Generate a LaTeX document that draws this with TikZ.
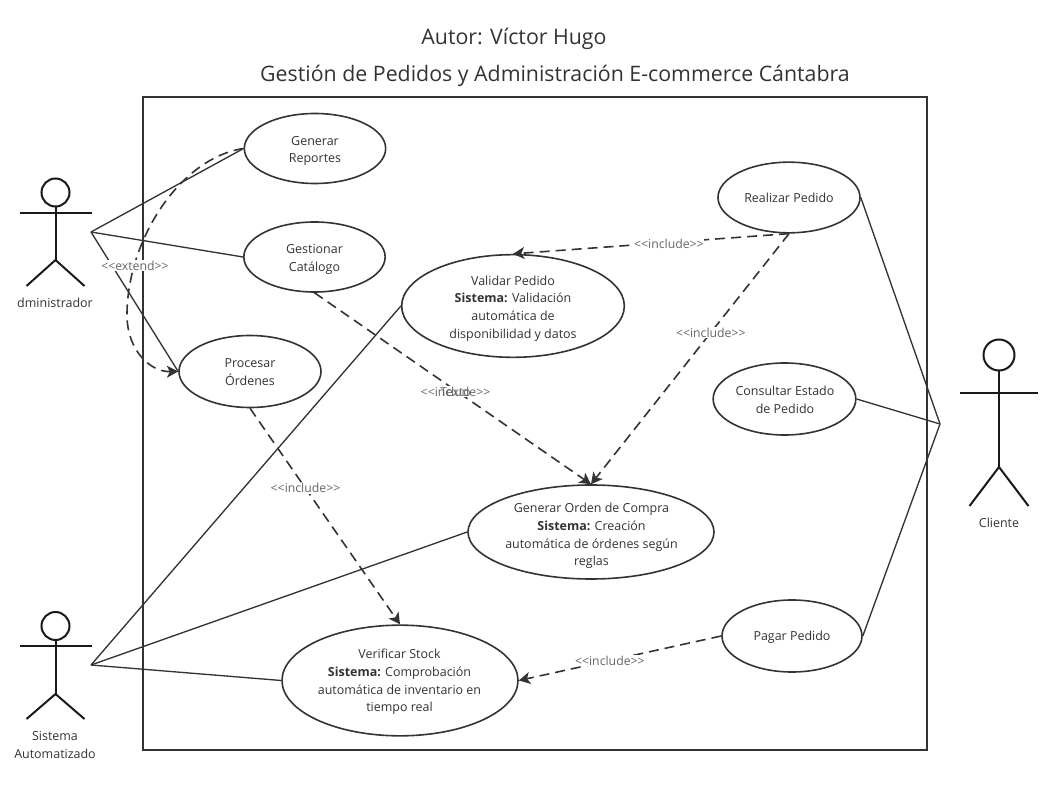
\documentclass[tikz,border=0pt]{standalone}
\usepackage{fontspec}
\setmainfont{Open Sans}
\usetikzlibrary{arrows.meta,shapes.geometric}
\definecolor{ink}{HTML}{333333}
\newcommand{\bodyfont}{\fontsize{9.35}{13.2}\selectfont}
\newcommand{\inctext}{{<}{<}include{>}{>}}
\tikzset{
  x=0.75pt,y=-0.75pt,
  usecase/.style={draw=ink,line width=1.2pt,ellipse,fill=white,inner sep=0pt},
  uctext/.style={text=ink,align=center,font=\bodyfont,inner sep=0pt},
  assoc/.style={draw=ink,line width=1pt},
  dep/.style={draw=ink,line width=1.2pt,dash pattern=on 7.5pt off 4.5pt,-{Stealth[length=8.5pt,width=9pt,inset=2.2pt]}},
  deplabel/.style={fill=white,text=ink!75,inner sep=0.5pt,font=\fontsize{9.2}{10}\selectfont},
  limb/.style={draw=black!90,line width=1.5pt},
  actorname/.style={text=ink,align=center,inner sep=0pt,font=\bodyfont},
  titletext/.style={text=ink,inner sep=0pt,font=\fontsize{16}{20}\selectfont},
}
\newcommand{\actor}[8]{%
 % cx headY r armY hipY armHalf legDx legY
 \draw[limb] (#1,#2) circle[radius=#3*0.75pt];
 \draw[limb] (#1,#2+#3) -- (#1,#5);
 \draw[limb] (#1-#6,#4) -- (#1+#6,#4);
 \draw[limb] (#1-#7,#8) -- (#1,#5) -- (#1+#7,#8);
}
\begin{document}
\begin{tikzpicture}
\useasboundingbox (0,0) rectangle (1046,798);
\node[titletext] (author) at (514,39) {Autor: Víctor Hugo};
\node[titletext] (title) at (555,76) {Gestión de Pedidos y Administración E-commerce Cántabra};
\node[draw=ink,line width=1.2pt,minimum width=784*0.75pt,minimum height=653*0.75pt,inner sep=0pt] (frame) at (535,423.5) {};

\actor{55.5}{192.5}{14}{213}{260}{36}{29}{286}
\actor{55.5}{626}{14}{646}{694}{36}{29}{719}
\actor{999}{355}{15.5}{393}{467}{39}{29.5}{506}
\node[actorname] (adminname) at (55,303) {dministrador};
\node[actorname] (sistname) at (55,745) {Sistema\\Automatizado};
\node[actorname] (cliname) at (999,523) {Cliente};
\coordinate (aA) at (91,232);
\coordinate (aS) at (91,665);
\coordinate (aC) at (940,424);

\node[usecase,minimum width=106pt,minimum height=52.5pt] (rep) at (315,148.5) {};
\node[usecase,minimum width=106pt,minimum height=52.5pt] (cat) at (314.5,257) {};
\node[usecase,minimum width=106.5pt,minimum height=54pt] (proc) at (250,371.5) {};
\node[usecase,minimum width=167pt,minimum height=77pt] (val) at (513,306) {};
\node[usecase,minimum width=106.5pt,minimum height=53pt] (real) at (789,197.5) {};
\node[usecase,minimum width=107pt,minimum height=54pt] (cons) at (784.5,399) {};
\node[usecase,minimum width=184.5pt,minimum height=70.5pt] (ord) at (591,532) {};
\node[usecase,minimum width=105pt,minimum height=54pt] (pag) at (792,636) {};
\node[usecase,minimum width=177pt,minimum height=83pt] (ver) at (400,680.5) {};

\node[uctext] (rept) at (315,151) {Generar\\Reportes};
\node[uctext] (catt) at (314.5,259.5) {Gestionar\\Catálogo};
\node[uctext] (proct) at (250,372) {Procesar\\Órdenes};
\node[uctext] (valt) at (513,308.5) {Validar Pedido\\\textbf{Sistema:} Validación\\automática de\\disponibilidad y datos};
\node[uctext] (realt) at (789,198) {Realizar Pedido};
\node[uctext] (const) at (785,400) {Consultar Estado\\de Pedido};
\node[uctext] (ordt) at (591.5,536) {Generar Orden de Compra\\\textbf{Sistema:} Creación\\automática de órdenes según\\reglas};
\node[uctext] (pagt) at (792,637) {Pagar Pedido};
\node[uctext] (vert) at (399.5,682) {Verificar Stock\\\textbf{Sistema:} Comprobación\\automática de inventario en\\tiempo real};

\draw[assoc] (aA) -- (rep.west);
\draw[assoc] (aA) -- (cat.west);
\draw[assoc] (aA) -- (proc.west);
\draw[assoc] (aS) -- (val.west);
\draw[assoc] (aS) -- (ord.west);
\draw[assoc] (aS) -- (ver.west);
\draw[assoc] (aC) -- (real.east);
\draw[assoc] (aC) -- (cons.east);
\draw[assoc] (aC) -- (pag.east);

\draw[dep] (real.south) -- node[deplabel,pos=0.435,yshift=-0.75pt] {\inctext} (val.north);
\draw[dep] (real.south) -- node[deplabel,pos=0.395] {\inctext} (ord.north);
\draw[dep] (cat.south) -- node[deplabel,pos=0.51,yshift=-1pt] (inc) {\inctext} (ord.north);
\node[text=ink!75,inner sep=0pt,font=\fontsize{9.2}{10}\selectfont] (texto) at (inc) {Texto};
\draw[dep] (proc.south) -- node[deplabel,pos=0.37] {\inctext} (ver.north);
\draw[dep] (pag.west) -- node[deplabel,pos=0.55] {\inctext} (ver.east);
\draw[dep] (rep.west) .. controls (180,158) and (127,240) .. (127,315) .. controls (127,350) and (150,372) .. (proc.west);
\node[deplabel] (ext) at (135,265.5) {{<}{<}extend{>}{>}};
\end{tikzpicture}
\end{document}
